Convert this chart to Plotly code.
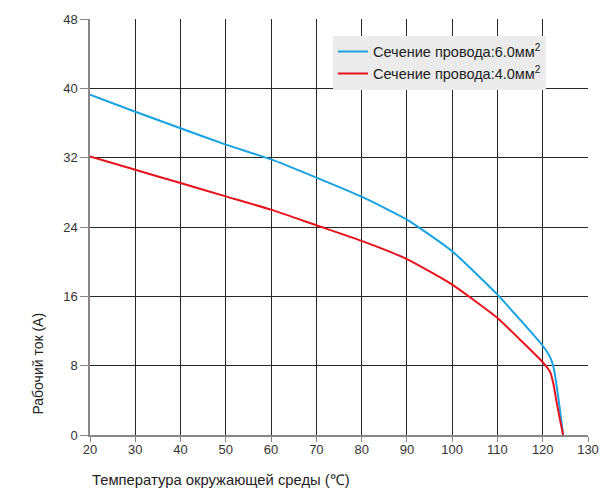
import plotly.graph_objects as go

temps = [20, 30, 40, 50, 60, 70, 80, 90, 100, 110, 115, 120, 121.7, 122.4, 123.1, 123.8, 124.5]
current_6mm = [39.27, 37.3, 35.4, 33.5, 31.8, 29.7, 27.5, 24.85, 21.2, 16.2, 13.3, 10.3, 8.9, 7.8, 5.6, 2.9, 0]
current_4mm = [32.15, 30.6, 29.07, 27.53, 26.0, 24.2, 22.4, 20.3, 17.35, 13.5, 11.0, 8.4, 7.2, 5.8, 3.7, 1.8, 0]
series_names = ["Сечение провода:6.0мм<sup>2</sup>", "Сечение провода:4.0мм<sup>2</sup>"]
x_ticks = [20, 30, 40, 50, 60, 70, 80, 90, 100, 110, 120, 130]
y_ticks = [0, 8, 16, 24, 32, 40, 48]
x_title = "Температура окружающей среды (℃)"
y_title = "Рабочий ток (A)"

fig = go.Figure()
fig.add_trace(go.Scatter(x=temps, y=current_6mm, mode="lines", name=series_names[0],
                         line=dict(color="#18a2e2", width=2, shape="spline", smoothing=0.5)))
fig.add_trace(go.Scatter(x=temps, y=current_4mm, mode="lines", name=series_names[1],
                         line=dict(color="#e6121c", width=2, shape="spline", smoothing=0.5)))

font = "Liberation Sans, Arial, sans-serif"
fig.update_layout(
    width=601, height=492,
    margin=dict(l=90, r=13, t=19, b=57, autoexpand=False),
    paper_bgcolor="white", plot_bgcolor="white",
    font=dict(family=font, size=13, color="#333333"),
    showlegend=True,
    legend=dict(x=0.488, y=0.96, xanchor="left", yanchor="top",
                bgcolor="#ebebeb", borderwidth=0,
                font=dict(family=font, size=14.5, color="#222222"),
                itemwidth=30, tracegroupgap=0),
    xaxis=dict(range=[20, 130], tickvals=x_ticks, showgrid=True, gridcolor="#2a2626", gridwidth=1,
               showline=True, linecolor="#8a8585", linewidth=1.5, ticks="outside", ticklen=5,
               tickcolor="#8a8585", zeroline=False, automargin=False, ticklabelstandoff=-3,
               tickfont=dict(size=13, color="#333333")),
    yaxis=dict(range=[0, 48], tickvals=y_ticks, showgrid=True, gridcolor="#2a2626", gridwidth=1,
               showline=True, linecolor="#8a8585", linewidth=1.5, ticks="outside", ticklen=8,
               tickcolor="#8a8585", zeroline=False, automargin=False,
               tickfont=dict(size=13, color="#333333")),
    annotations=[
        dict(text=x_title, xref="paper", yref="paper", x=0.0, y=-0.085, xanchor="left", yanchor="top",
             showarrow=False, font=dict(family=font, size=14.8, color="#222222")),
        dict(text=y_title, xref="paper", yref="paper", x=-0.105, y=0.171, xanchor="center", yanchor="middle",
             textangle=-90, showarrow=False, font=dict(family=font, size=14, color="#222222")),
    ],
)
fig.write_html("out.html", config={"displayModeBar": False})

with open("out.html", "r", encoding="utf-8") as f:
    html = f.read()
html = html.replace("<head>", "<head><style>html,body{margin:0;padding:0;overflow:hidden}</style>", 1)
with open("out.html", "w", encoding="utf-8") as f:
    f.write(html)
